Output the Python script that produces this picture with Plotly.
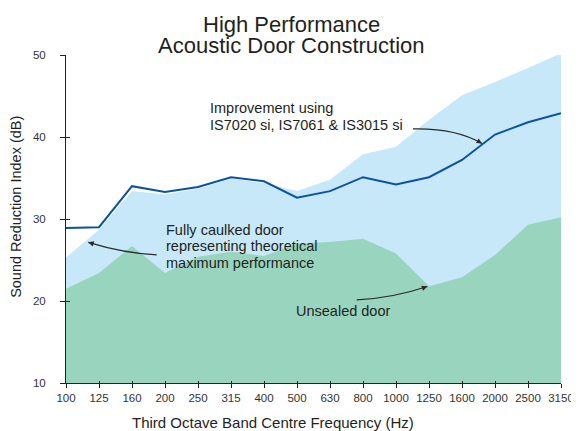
import plotly.graph_objects as go
import math

# ---- data ----
freq_labels = ['100', '125', '160', '200', '250', '315', '400', '500', '630',
               '800', '1000', '1250', '1600', '2000', '2500', '3150']
fully_caulked = [25.3, 28.7, 33.4, 33.0, 33.7, 34.9, 34.4, 33.4, 34.8,
                 37.9, 38.8, 42.1, 45.1, 46.7, 48.4, 50.2]
unsealed = [21.5, 23.4, 26.7, 23.4, 25.4, 26.0, 25.5, 27.0, 27.2,
            27.6, 25.8, 21.8, 22.9, 25.6, 29.3, 30.2]
improvement = [28.9, 29.0, 34.0, 33.3, 33.9, 35.1, 34.6, 32.6, 33.4,
               35.1, 34.2, 35.1, 37.2, 40.3, 41.8, 42.9]
y_ticks = [10, 20, 30, 40, 50]

idx = list(range(len(freq_labels)))

# ---- layout geometry (screen pixels; page body has an 8px margin) ----
OFF = 8
SW, SH = 579, 431
W, H = SW - OFF, SH - OFF
PL, PR, PT, PB = 66, 561, 55, 383.3     # plot area in screen pixels
L, R, T, B = PL - OFF, SW - PR, PT - OFF, SH - PB
PW, PH = PR - PL, PB - PT
XR = (0, len(freq_labels) - 1)
YR = (10, 50)


def to_data(px, py):
    x = XR[0] + (px - PL) / PW * (XR[1] - XR[0])
    y = YR[0] + (PB - py) / PH * (YR[1] - YR[0])
    return x, y


def to_paper(px, py):
    return (px - PL) / PW, (PB - py) / PH


FONT = "Liberation Sans, Arial, Helvetica, sans-serif"
TXT = "#231f20"
LIGHT = "#c6e8f8"
GREEN = "#99d4bf"
LINE = "#0b52a3"

fig = go.Figure()
fig.add_trace(go.Scatter(x=idx, y=fully_caulked, mode='lines', fill='tozeroy',
                         fillcolor=LIGHT, line=dict(width=0, color=LIGHT),
                         hoverinfo='skip', showlegend=False))
fig.add_trace(go.Scatter(x=idx, y=unsealed, mode='lines', fill='tozeroy',
                         fillcolor=GREEN, line=dict(width=0, color=GREEN),
                         hoverinfo='skip', showlegend=False))
fig.add_trace(go.Scatter(x=idx, y=improvement, mode='lines',
                         line=dict(width=2, color=LINE),
                         hoverinfo='skip', showlegend=False))
# invisible trace for overlay (inside-tick) axes
fig.add_trace(go.Scatter(x=[0], y=[10], mode='markers', marker=dict(opacity=0),
                         xaxis='x2', yaxis='y2', hoverinfo='skip', showlegend=False))

shapes = []
annotations = []


def curve_arrow(p0, c, p2, head=True):
    a = to_data(*p0)
    b = to_data(*c)
    d = to_data(*p2)
    shapes.append(dict(type='path', xref='x', yref='y',
                       path=f"M {a[0]},{a[1]} Q {b[0]},{b[1]} {d[0]},{d[1]}",
                       line=dict(color="#2a2a2a", width=1.2)))
    if head:
        dx, dy = p2[0] - c[0], p2[1] - c[1]
        n = math.hypot(dx, dy)
        hx, hy = to_data(*p2)
        annotations.append(dict(x=hx, y=hy, xref='x', yref='y', text='',
                                showarrow=True, arrowhead=2, arrowsize=0.9,
                                arrowwidth=1.2, arrowcolor="#2a2a2a",
                                ax=-dx / n * 6, ay=-dy / n * 6, standoff=0))


curve_arrow((413, 129), (455, 128), (482, 143.5))
curve_arrow((156.7, 255), (123.5, 253.3), (88.3, 242.5))
curve_arrow((356.7, 300), (391.4, 298.7), (427.3, 286.7))


def text_at(px, py, s, size=14.5, anchor='left'):
    x, y = to_paper(px, py)
    annotations.append(dict(x=x, y=y, xref='paper', yref='paper', text=s,
                            showarrow=False, xanchor=anchor, yanchor='middle',
                            borderpad=0,
                            font=dict(family=FONT, size=size, color=TXT)))


# title
text_at(291, 24, "High Performance", size=22, anchor='center')
text_at(291, 45, "Acoustic Door Construction", size=22, anchor='center')

# labels
text_at(209, 108, "Improvement using")
text_at(209, 125, "IS7020 si, IS7061 &amp; IS3015 si")
text_at(165, 230, "Fully caulked door")
text_at(165, 246.5, "representing theoretical")
text_at(165, 263, "maximum performance")
text_at(295, 311.5, "Unsealed door")

# axis titles
text_at(273, 423, "Third Octave Band Centre Frequency (Hz)", size=15, anchor='center')
xp, yp = to_paper(16, 207)
annotations.append(dict(x=xp, y=yp, xref='paper', yref='paper',
                        text="Sound Reduction Index (dB)", textangle=-90,
                        showarrow=False, xanchor='center', yanchor='middle',
                        borderpad=0,
                        font=dict(family=FONT, size=14.5, color=TXT)))

fig.update_layout(
    width=W, height=H,
    margin=dict(l=L, r=R, t=T, b=B, pad=0, autoexpand=False),
    paper_bgcolor='white', plot_bgcolor='white',
    showlegend=False,
    font=dict(family=FONT, color=TXT),
    xaxis=dict(range=list(XR), tickvals=idx, ticktext=freq_labels,
               showgrid=False, zeroline=False, showline=True,
               linecolor="#222", linewidth=1, ticks='outside', ticklen=4,
               tickcolor="#222", tickwidth=1, ticklabelstandoff=0,
               tickfont=dict(family=FONT, size=11.5, color="#333")),
    yaxis=dict(range=list(YR), tickvals=y_ticks,
               showgrid=False, zeroline=False, showline=True,
               linecolor="#222", linewidth=1, ticks='outside', ticklen=5,
               tickcolor="#222", tickwidth=1, ticklabelstandoff=12,
               tickfont=dict(family=FONT, size=11.5, color="#333")),
    xaxis2=dict(range=list(XR), tickvals=idx, overlaying='x', side='bottom',
                showgrid=False, zeroline=False, showline=False,
                ticks='inside', ticklen=2, tickcolor="#222", tickwidth=1,
                showticklabels=False),
    yaxis2=dict(range=list(YR), tickvals=y_ticks, overlaying='y', side='left',
                showgrid=False, zeroline=False, showline=False,
                ticks='inside', ticklen=4, tickcolor="#222", tickwidth=1,
                showticklabels=False),
    shapes=shapes,
    annotations=annotations,
)

fig.write_html("out.html")
